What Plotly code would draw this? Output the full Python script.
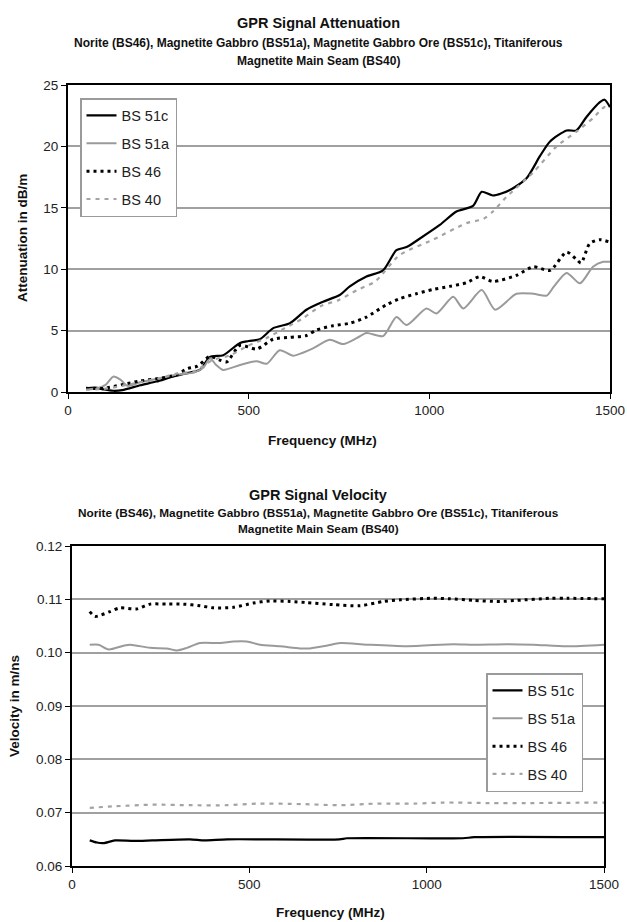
import plotly.graph_objects as go

# ---------------- Data: attenuation (dB/m) ----------------
att_51c_f = [50, 75, 100, 125, 150, 200, 245, 290, 340, 365, 393, 430, 476, 500, 531, 568, 614, 660, 706, 752,
             780, 826, 872, 909, 937, 974, 1029, 1075, 1121, 1145, 1176, 1223, 1269, 1306, 1334, 1380, 1407, 1435,
             1472, 1485, 1500]
att_51c = [0.3, 0.35, 0.2, 0.1, 0.15, 0.55, 0.85, 1.25, 1.6, 1.8, 2.85, 3.0, 4.0, 4.15, 4.3, 5.2, 5.6, 6.7, 7.35, 7.9,
           8.6, 9.4, 9.9, 11.55, 11.8, 12.5, 13.6, 14.7, 15.15, 16.3, 16.0, 16.45, 17.4, 19.2, 20.4, 21.3, 21.3, 22.4,
           23.6, 23.8, 23.2]

att_51a_f = [50, 80, 105, 125, 145, 165, 200, 250, 300, 350, 375, 393, 410, 429, 476, 522, 550, 586, 623, 650, 678,
             724, 762, 800, 826, 872, 909, 937, 992, 1020, 1066, 1094, 1145, 1182, 1241, 1288, 1325, 1345, 1380, 1417,
             1453, 1481, 1500]
att_51a = [0.2, 0.3, 0.6, 1.25, 1.0, 0.5, 0.8, 1.1, 1.4, 1.6, 2.0, 2.75, 2.2, 1.8, 2.2, 2.5, 2.3, 3.4, 2.95, 3.2, 3.55,
           4.25, 3.9, 4.4, 4.8, 4.55, 6.1, 5.45, 6.8, 6.4, 7.75, 6.8, 8.3, 6.7, 8.0, 8.0, 7.85, 8.6, 9.7, 8.85,
           10.2, 10.6, 10.6]

att_46_f = [50, 100, 150, 200, 250, 300, 330, 358, 393, 420, 439, 476, 522, 568, 614, 660, 688, 734, 780, 826, 881,
            918, 964, 1010, 1056, 1103, 1140, 1176, 1241, 1288, 1334, 1380, 1407, 1420, 1444, 1472, 1500]
att_46 = [0.3, 0.3, 0.6, 0.9, 1.1, 1.4, 1.9, 2.1, 2.9, 2.6, 2.45, 3.8, 3.5, 4.3, 4.45, 4.6, 5.05, 5.4, 5.6, 6.1, 7.1,
          7.6, 8.0, 8.35, 8.6, 8.9, 9.4, 9.0, 9.5, 10.2, 9.9, 11.4, 10.8, 10.5, 12.1, 12.4, 12.2]

att_40_f = [50, 100, 150, 200, 250, 300, 350, 400, 450, 500, 550, 600, 650, 700, 750, 800, 850, 918, 1010, 1103, 1150,
            1176, 1214, 1288, 1352, 1407, 1453, 1485, 1500]
att_40 = [0.2, 0.25, 0.5, 0.8, 1.1, 1.5, 1.7, 2.6, 3.0, 3.8, 4.4, 5.2, 6.0, 7.0, 7.5, 8.3, 9.0, 11.15, 12.4, 13.75,
          14.1, 14.7, 15.9, 17.9, 20.0, 21.2, 22.3, 23.2, 23.0]

# ---------------- Data: velocity (m/ns) ----------------
vel_51c_f = [50, 70, 90, 121, 174, 227, 332, 374, 438, 754, 775, 1102, 1134, 1500]
vel_51c = [0.0648, 0.0644, 0.0643, 0.0648, 0.0647, 0.0648, 0.0650, 0.0648, 0.0650, 0.0650, 0.0652, 0.0652, 0.0654,
           0.0654]

vel_51a_f = [50, 75, 103, 145, 164, 220, 267, 296, 324, 361, 418, 455, 493, 530, 587, 643, 671, 718, 756, 831, 944,
             1076, 1132, 1226, 1301, 1395, 1500]
vel_51a = [0.1015, 0.1015, 0.1006, 0.1013, 0.1015, 0.1009, 0.1008, 0.1004, 0.1009, 0.1018, 0.1018, 0.1021, 0.1021,
           0.1015, 0.1012, 0.1008, 0.1008, 0.1013, 0.1018, 0.1015, 0.1012, 0.1016, 0.1015, 0.1016, 0.1015, 0.1012,
           0.1015]

vel_46_f = [50, 65, 107, 135, 182, 220, 267, 314, 361, 399, 455, 511, 558, 615, 662, 737, 812, 878, 925, 1019, 1066,
            1132, 1207, 1254, 1348, 1395, 1500]
vel_46 = [0.1077, 0.1068, 0.1077, 0.1084, 0.1082, 0.1091, 0.1091, 0.1091, 0.1088, 0.1084, 0.1085, 0.1093, 0.1097,
          0.1096, 0.1094, 0.1090, 0.1088, 0.1096, 0.1099, 0.1102, 0.1101, 0.1098, 0.1096, 0.1098, 0.1102, 0.1102,
          0.1101]

vel_40_f = [50, 121, 227, 332, 438, 522, 649, 754, 860, 965, 1049, 1176, 1282, 1500]
vel_40 = [0.0709, 0.0712, 0.0715, 0.0714, 0.0714, 0.0717, 0.0716, 0.0714, 0.0717, 0.0717, 0.0719, 0.0718, 0.0718,
          0.0719]

series_names = ["BS 51c", "BS 51a", "BS 46", "BS 40"]
x_ticks = [0, 500, 1000, 1500]

FONT = "Liberation Sans, Arial, sans-serif"

styles = [
    dict(color="#000000", width=2.2, dash="solid"),
    dict(color="#9a9a9a", width=2.0, dash="solid"),
    dict(color="#000000", width=3.0, dash="3px,4px"),
    dict(color="#a3a3a3", width=2.2, dash="4px,5px"),
]

W, H = 627, 922


def px_x(p):
    return p / W


def px_y(p):
    return 1 - p / H


fig = go.Figure()

att = [(att_51c_f, att_51c), (att_51a_f, att_51a), (att_46_f, att_46), (att_40_f, att_40)]
vel = [(vel_51c_f, vel_51c), (vel_51a_f, vel_51a), (vel_46_f, vel_46), (vel_40_f, vel_40)]

for i, ((fx, fy), name, st) in enumerate(zip(att, series_names, styles)):
    fig.add_trace(go.Scatter(x=fx, y=fy, mode="lines", name=name, legendgroup=f"a{i}",
                             line=dict(shape="spline", smoothing=0.7, **st),
                             xaxis="x", yaxis="y", legend="legend"))
for i, ((fx, fy), name, st) in enumerate(zip(vel, series_names, styles)):
    fig.add_trace(go.Scatter(x=fx, y=fy, mode="lines", name=name, legendgroup=f"v{i}",
                             line=dict(shape="spline", smoothing=0.7, **st),
                             xaxis="x2", yaxis="y2", legend="legend2"))

axis_common = dict(showline=True, linecolor="#000000", linewidth=2, mirror=True, ticks="outside", ticklen=5,
                   tickcolor="#000000", tickwidth=1, tickfont=dict(family=FONT, size=13.5, color="#222222"),
                   zeroline=False, automargin=False)

legend_common = dict(xanchor="left", yanchor="top", bgcolor="white", bordercolor="#9a9a9a",
                     borderwidth=1.5, font=dict(family=FONT, size=14.5, color="#222222"), tracegroupgap=6,
                     itemwidth=30)

fig.update_layout(
    width=W, height=H,
    margin=dict(l=0, r=0, t=0, b=0),
    paper_bgcolor="white", plot_bgcolor="white",
    showlegend=True,
    xaxis=dict(domain=[px_x(68), px_x(610)], range=[0, 1500], tickvals=x_ticks, showgrid=False, anchor="y",
               **axis_common),
    yaxis=dict(domain=[px_y(392), px_y(85)], range=[0, 25], dtick=5, showgrid=True, gridcolor="#a0a0a0",
               gridwidth=1.5, anchor="x", **axis_common),
    xaxis2=dict(domain=[px_x(72), px_x(604)], range=[0, 1500], tickvals=x_ticks, showgrid=False, anchor="y2",
                **axis_common),
    yaxis2=dict(domain=[px_y(866), px_y(546)], range=[0.06, 0.12], dtick=0.01, tickformat=".2f", showgrid=True,
                gridcolor="#a0a0a0", gridwidth=1.5, anchor="x2", **axis_common),
    legend=dict(x=px_x(80), y=px_y(98), **legend_common),
    legend2=dict(x=px_x(486), y=px_y(673), **legend_common),
)

annotations = [
    dict(text="<b>GPR Signal Attenuation</b>", x=px_x(318), y=px_y(23), font=dict(family=FONT, size=14.5)),
    dict(text="<b>Norite (BS46), Magnetite Gabbro (BS51a), Magnetite Gabbro Ore (BS51c), Titaniferous</b>",
         x=px_x(318), y=px_y(43), font=dict(family=FONT, size=12)),
    dict(text="<b>Magnetite Main Seam (BS40)</b>", x=px_x(318), y=px_y(61), font=dict(family=FONT, size=12)),
    dict(text="<b>Frequency (MHz)</b>", x=px_x(322), y=px_y(441), font=dict(family=FONT, size=13.5)),
    dict(text="<b>Attenuation in dB/m</b>", x=px_x(22), y=px_y(238), textangle=-90,
         font=dict(family=FONT, size=13.5)),
    dict(text="<b>GPR Signal Velocity</b>", x=px_x(318), y=px_y(495), font=dict(family=FONT, size=14.5)),
    dict(text="<b>Norite (BS46), Magnetite Gabbro (BS51a), Magnetite Gabbro Ore (BS51c), Titaniferous</b>",
         x=px_x(318), y=px_y(513), font=dict(family=FONT, size=11.8)),
    dict(text="<b>Magnetite Main Seam (BS40)</b>", x=px_x(318), y=px_y(529), font=dict(family=FONT, size=11.8)),
    dict(text="<b>Frequency (MHz)</b>", x=px_x(330), y=px_y(912), font=dict(family=FONT, size=13.5)),
    dict(text="<b>Velocity in m/ns</b>", x=px_x(14), y=px_y(706), textangle=-90,
         font=dict(family=FONT, size=13.5)),
]
for a in annotations:
    a.update(xref="paper", yref="paper", showarrow=False, xanchor="center", yanchor="middle")
    a["font"]["color"] = "#111111"
fig.update_layout(annotations=annotations)

fig.write_html("out.html", config={"displayModeBar": False},
               post_script="document.body.style.margin='0';document.body.style.overflow='hidden';")
